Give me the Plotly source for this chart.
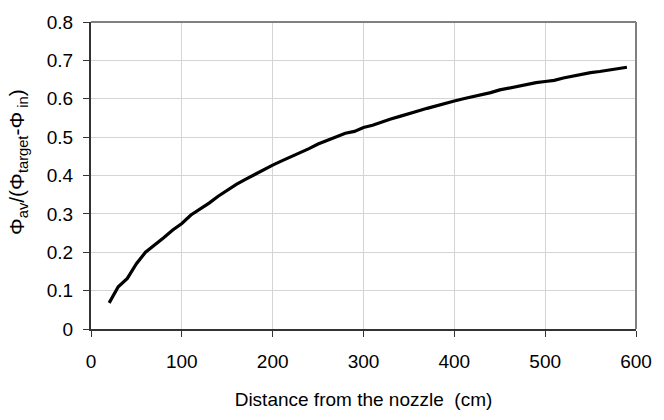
import plotly.graph_objects as go

distance_cm = [20, 30, 40, 50, 60, 70, 80, 90, 100, 110, 120, 130, 140, 150, 160, 170, 180, 190,
               200, 210, 220, 230, 240, 250, 260, 270, 280, 290, 300, 310, 320, 330, 340, 350,
               360, 370, 380, 390, 400, 410, 420, 430, 440, 450, 460, 470, 480, 490, 500, 510,
               520, 530, 540, 550, 560, 570, 580, 590]
phi_ratio = [0.068, 0.110, 0.132, 0.170, 0.200, 0.218, 0.238, 0.258, 0.275, 0.297, 0.312, 0.328,
             0.346, 0.362, 0.377, 0.390, 0.403, 0.416, 0.427, 0.438, 0.448, 0.459, 0.470, 0.482,
             0.492, 0.501, 0.510, 0.515, 0.525, 0.531, 0.540, 0.547, 0.554, 0.562, 0.568, 0.575,
             0.582, 0.589, 0.594, 0.600, 0.605, 0.611, 0.616, 0.623, 0.628, 0.634, 0.638, 0.642,
             0.645, 0.648, 0.654, 0.659, 0.664, 0.668, 0.671, 0.674, 0.678, 0.682]

x_ticks = [0, 100, 200, 300, 400, 500, 600]
y_ticks = [0, 0.1, 0.2, 0.3, 0.4, 0.5, 0.6, 0.7, 0.8]
y_tick_labels = ["0", "0.1", "0.2", "0.3", "0.4", "0.5", "0.6", "0.7", "0.8"]
x_title = "Distance from the nozzle \u00a0(cm)"
y_title = "Φ<sub>av</sub>/(Φ<sub>target</sub>-Φ<sub> in</sub>)"

FONT = "Liberation Sans, Arial, sans-serif"

fig = go.Figure()
fig.add_trace(go.Scatter(x=distance_cm, y=phi_ratio, mode="lines",
                         line=dict(color="black", width=3.2), showlegend=False))

fig.update_layout(
    width=664, height=420,
    margin=dict(l=91, r=21, t=20, b=91),
    paper_bgcolor="white", plot_bgcolor="white",
    font=dict(family=FONT, size=19, color="black"),
    xaxis=dict(range=[0, 600], tickvals=x_ticks, ticks="outside", ticklen=6, tickwidth=1,
               tickcolor="#333333", showline=True, linecolor="#333333", linewidth=2,
               showgrid=True, gridcolor="#d4d4d4", gridwidth=1, zeroline=False,
               ticklabelstandoff=8,
               title=dict(text=x_title, standoff=22, font=dict(size=19))),
    yaxis=dict(range=[0, 0.8], tickvals=y_ticks, ticktext=y_tick_labels, ticks="outside",
               ticklen=6, tickwidth=1, tickcolor="#333333", showline=True,
               linecolor="#333333", linewidth=2, showgrid=True, gridcolor="#d4d4d4",
               gridwidth=1, zeroline=False, ticklabelstandoff=6),
    shapes=[dict(type="line", xref="paper", yref="paper", x0=0, x1=1, y0=1, y1=1,
                 line=dict(color="#808080", width=2)),
            dict(type="line", xref="paper", yref="paper", x0=1, x1=1, y0=0, y1=1,
                 line=dict(color="#808080", width=2))],
    annotations=[dict(text=y_title, textangle=-90, xref="paper", yref="paper",
                      x=0, y=0.544, xshift=-73, xanchor="center", yanchor="middle",
                      showarrow=False, font=dict(size=21))],
)

fig.write_html("out.html")
